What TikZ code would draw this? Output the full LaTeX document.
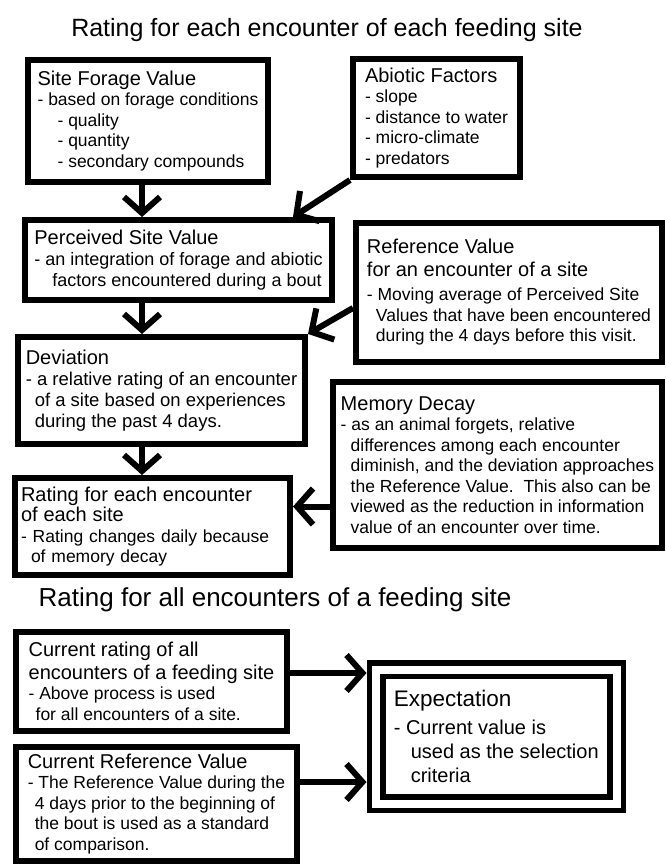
\documentclass[tikz,border=0pt]{standalone}
\usepackage{fontspec}
\setmainfont{Liberation Sans}
\usetikzlibrary{arrows.meta}
\newcommand{\boxhead}{\fontsize{20}{24}\selectfont}
\newcommand{\boxind}[1][10pt]{\hspace*{#1}}

\begin{document}
\begin{tikzpicture}[x=1pt,y=-1pt]

\tikzset{box/.style={draw, line width=6pt, align=left, inner sep=6pt, font=\fontsize{17.5}{20.5}\selectfont},
  dblbox/.style={box, double, double distance=8pt, line width=5.5pt, outer sep=9.5pt, font=\fontsize{20}{24}\selectfont},
  arr/.style={line width=6pt, -{Straight Barb[length=16pt,width=36pt]}},
  heading/.style={font=\fontsize{25}{30}\selectfont}}

\useasboundingbox (0,0) rectangle (665,864);

\node[heading] (title1) at (327,30) {Rating for each encounter of each feeding site};

\node[box, minimum width=240pt, minimum height=122pt] (sfv) at (148,121)
  {{\boxhead Site Forage Value}\\
   - based on forage conditions\\
   \boxind[20pt]- quality\\
   \boxind[20pt]- quantity\\
   \boxind[20pt]- secondary compounds};

\node[box, minimum width=167pt, minimum height=118pt] (abf) at (436.5,118)
  {{\boxhead Abiotic Factors}\\
   - slope\\
   - distance to water\\
   - micro-climate\\
   - predators};

\node[box, minimum width=307pt, minimum height=80pt, font=\fontsize{18}{21}\selectfont] (psv) at (178.5,260)
  {{\boxhead Perceived Site Value}\\
   - an integration of forage and abiotic\\
   \boxind[18pt]factors encountered during a bout};

\node[box, minimum width=306pt, minimum height=139pt] (refv) at (509,292.5)
  {{\boxhead Reference Value}\\[2pt]
   {\boxhead for an encounter of a site}\\[4pt]
   - Moving average of Perceived Site\\
   \boxind[9pt]Values that have been encountered\\
   \boxind[9pt]during the 4 days before this visit.};

\node[box, minimum width=287pt, minimum height=107pt, font=\fontsize{18.5}{21}\selectfont] (dev) at (161.5,390.5)
  {{\boxhead Deviation}\\
   - a relative rating of an encounter\\
   \boxind[9pt]of a site based on experiences\\
   \boxind[9pt]during the past 4 days.};

\node[box, minimum width=329pt, minimum height=166pt] (mem) at (497.5,465)
  {{\boxhead Memory Decay}\\
   - as an animal forgets, relative\\
   \boxind differences among each encounter\\
   \boxind diminish, and the deviation approaches\\
   \boxind the Reference Value.\ \ This also can be\\
   \boxind viewed as the reduction in information\\
   \boxind value of an encounter over time.};

\node[box, text width=263pt, minimum width=275pt, minimum height=97pt] (rat) at (152.5,526.5)
  {{\boxhead Rating for each encounter}\\
   {\boxhead of each site}\\
   - Rating changes daily because\\
   \boxind of memory decay};

\node[heading, font=\fontsize{26}{30}\selectfont] (title2) at (275,600) {Rating for all encounters of a feeding site};

\node[box, minimum width=271pt, minimum height=99pt] (cur) at (151.5,681.5)
  {{\boxhead Current rating of all}\\[2pt]
   {\boxhead encounters of a feeding site}\\
   - Above process is used\\
   \boxind[7pt]for all encounters of a site.};

\node[box, minimum width=281pt, minimum height=114pt] (cref) at (156.5,804)
  {{\boxhead Current Reference Value}\\
   - The Reference Value during the\\
   \boxind[7pt]4 days prior to the beginning of\\
   \boxind[7pt]the bout is used as a standard\\
   \boxind[7pt]of comparison.};

\node[dblbox, minimum width=240.5pt, minimum height=134pt] (expect) at (496.25,736.5)
  {{\fontsize{22.5}{27}\selectfont Expectation}\\[4pt]
   - Current value is\\
   \boxind[17pt]used as the selection\\
   \boxind[17pt]criteria};

\coordinate (spine) at (142,0);
\draw[arr] (sfv.south -| spine) -- (psv.north -| spine);
\draw[arr] (abf.south west) -- ([xshift=-42pt]psv.north east);
\draw[arr] (psv.south -| spine) -- (dev.north -| spine);
\draw[arr] ([yshift=-15.5pt]refv.west) -- (dev.north east);
\draw[arr] (dev.south -| spine) -- (rat.north -| spine);
\draw[arr] ([yshift=20pt]rat.east -| mem.west) -- ([yshift=20pt]rat.east);
\draw[arr] ([yshift=8.5pt]cur.east) -- ([yshift=8.5pt]cur.east -| expect.west);
\draw[arr] ([yshift=22pt]cref.east) -- ([yshift=22pt]cref.east -| expect.west);

\end{tikzpicture}
\end{document}
